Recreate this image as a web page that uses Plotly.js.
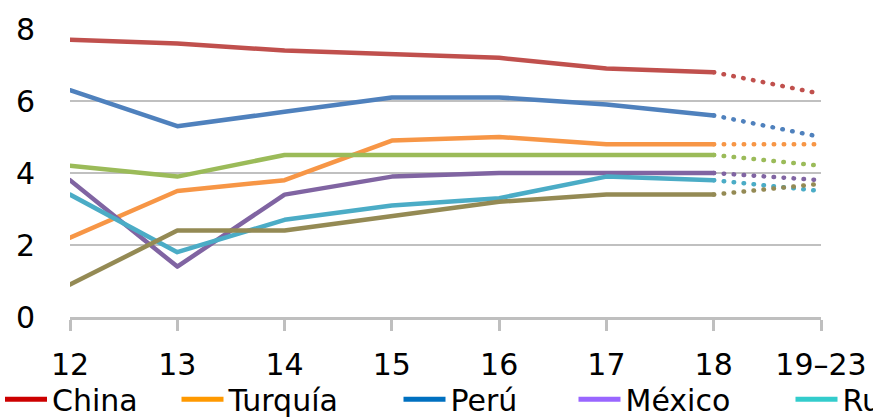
<!DOCTYPE html>
<html>
<head>
<meta charset="utf-8">
<script src="https://cdn.plot.ly/plotly-3.0.1.min.js"></script>
<style>
  html, body { margin: 0; padding: 0; background: #fff; }
  #wrap { width: 873px; height: 418px; overflow: hidden; position: relative; }
  #chart { width: 1300px; height: 418px; }
  .scatterlayer path.js-line { stroke-linecap: round; stroke-linejoin: round; }
</style>
</head>
<body>
<div id="wrap"><div id="chart"></div></div>
<script>
// Categories (years) — last one is the projection period
const categories = ['12', '13', '14', '15', '16', '17', '18', '19–23'];

// Series values (observed 12–18, projection 19–23)
const china    = [7.7, 7.6, 7.4, 7.3, 7.2, 6.9, 6.8, 6.2];
const peru     = [6.3, 5.3, 5.7, 6.1, 6.1, 5.9, 5.6, 5.0];
const turquia  = [2.2, 3.5, 3.8, 4.9, 5.0, 4.8, 4.8, 4.8];
const colombia = [4.2, 3.9, 4.5, 4.5, 4.5, 4.5, 4.5, 4.2];
const mexico   = [3.8, 1.4, 3.4, 3.9, 4.0, 4.0, 4.0, 3.8];
const rusia    = [3.4, 1.8, 2.7, 3.1, 3.3, 3.9, 3.8, 3.5];
const brasil   = [0.9, 2.4, 2.4, 2.8, 3.2, 3.4, 3.4, 3.7];

// Legend labels shown in the strip below the chart
const legendNames = ['China', 'Turquía', 'Perú', 'México', 'Rusia'];
const legendColors = ['#cc0000', '#ff9900', '#0070c0', '#9966ff', '#33cccc'];

const series = [
  {name: 'China',    y: china,    color: '#c0504d'},
  {name: 'Perú',     y: peru,     color: '#4f81bd'},
  {name: 'Turquía',  y: turquia,  color: '#f79646'},
  {name: 'Colombia', y: colombia, color: '#9bbb59'},
  {name: 'México',   y: mexico,   color: '#8064a2'},
  {name: 'Rusia',    y: rusia,    color: '#4bacc6'},
  {name: 'Brasil',   y: brasil,   color: '#948a54'}
];

const nObs = 7; // 12..18 solid
const traces = [];
series.forEach(s => {
  traces.push({
    type: 'scatter', mode: 'lines', name: s.name,
    x: categories.slice(0, nObs), y: s.y.slice(0, nObs),
    line: {color: s.color, width: 4.5},
    showlegend: false, hoverinfo: 'skip', cliponaxis: false
  });
  traces.push({
    type: 'scatter', mode: 'lines', name: s.name,
    x: categories.slice(nObs - 1), y: s.y.slice(nObs - 1),
    line: {color: s.color, width: 4.5, dash: '0.5px,9.5px'},
    showlegend: false, hoverinfo: 'skip', cliponaxis: false
  });
});

const font = {family: '"DejaVu Sans", sans-serif', size: 30, color: '#000'};
const W = 1300;
const legendTextStarts = [53, 239, 461, 636, 853]; // px, layout positions of the entries' labels

const layout = {
  width: W, height: 418,
  margin: {l: 70, r: 479, t: 29, b: 101, pad: 0},
  paper_bgcolor: '#fff', plot_bgcolor: '#fff',
  font: font,
  showlegend: true,
  xaxis: {
    type: 'category', range: [0, 7],
    showgrid: false, zeroline: false,
    showline: true, linecolor: '#bfbfbf', linewidth: 3,
    ticks: 'outside', ticklen: 11, tickwidth: 3, tickcolor: '#bfbfbf',
    tickfont: font, ticklabelstandoff: 8, fixedrange: true
  },
  yaxis: {
    range: [0, 8], tickvals: [0, 2, 4, 6, 8],
    showgrid: true, gridcolor: '#c0c0c0', gridwidth: 2,
    zeroline: false, showline: false, ticks: '',
    tickfont: font, ticklabelstandoff: 34, fixedrange: true
  },
  hovermode: false
};

legendNames.forEach((n, i) => {
  const key = i === 0 ? 'legend' : 'legend' + (i + 1);
  traces.push({
    type: 'scatter', mode: 'lines', name: n,
    x: [null], y: [null],
    line: {color: legendColors[i], width: 5},
    showlegend: true, hoverinfo: 'skip', legend: key
  });
  layout[key] = {
    orientation: 'h', xref: 'container', yref: 'container',
    x: (legendTextStarts[i] - 62.5) / W, xanchor: 'left',
    y: 0.045, yanchor: 'middle',
    font: font, bgcolor: 'rgba(0,0,0,0)', itemwidth: 42
  };
});

Plotly.newPlot('chart', traces, layout, {displayModeBar: false, staticPlot: true});
</script>
</body>
</html>
